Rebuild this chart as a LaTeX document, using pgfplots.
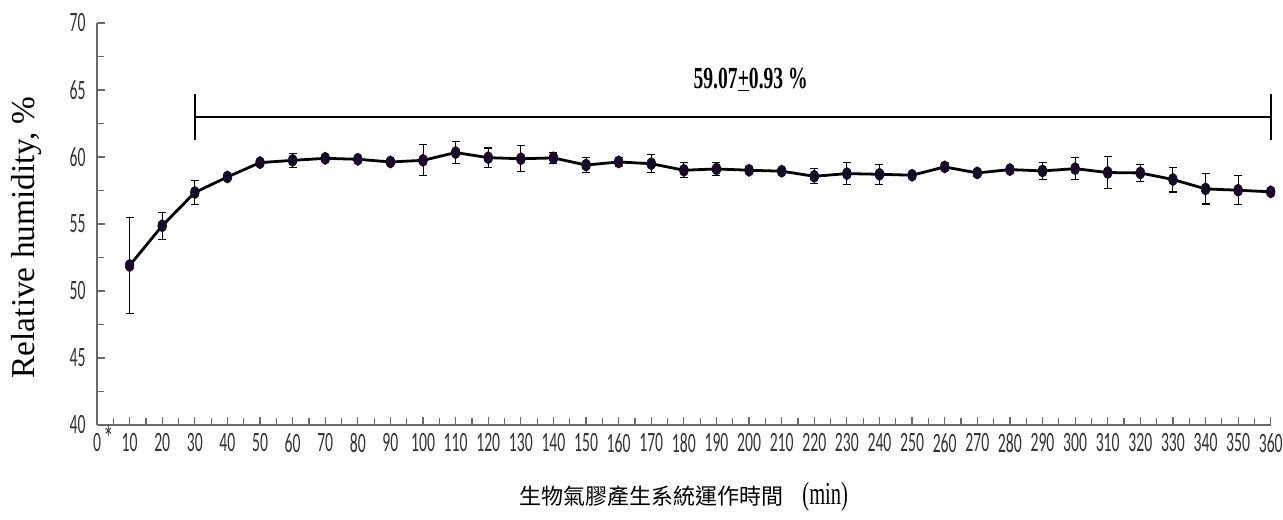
\documentclass[border=0pt]{standalone}
\usepackage{fontspec}
\setmainfont{Liberation Serif}
\newfontfamily\tickfont[FakeStretch=0.56]{Carlito}
\newfontfamily\cjk{Noto Sans CJK TC}
\newfontfamily\condserif[FakeStretch=0.64]{Liberation Serif}
\usepackage{pgfplots}
\usepackage{pgfplotstable}
\pgfplotsset{compat=1.18}
\definecolor{axgray}{RGB}{105,105,105}
\definecolor{txtgray}{RGB}{50,50,50}
\definecolor{mk}{RGB}{22,10,38}

\pgfplotstableread{
x y e
10 51.9 3.55
20 54.87 1.0
30 57.35 0.88
40 58.51 0.12
50 59.58 0.12
60 59.75 0.5
70 59.9 0.15
80 59.83 0.15
90 59.63 0.15
100 59.75 1.15
110 60.33 0.85
120 59.95 0.72
130 59.87 0.97
140 59.93 0.4
150 59.4 0.57
160 59.63 0.35
170 59.5 0.67
180 59.01 0.55
190 59.11 0.47
200 59.01 0.25
210 58.94 0.2
220 58.56 0.56
230 58.76 0.84
240 58.71 0.73
250 58.64 0.15
260 59.26 0.3
270 58.81 0.25
280 59.06 0.2
290 58.96 0.62
300 59.13 0.82
310 58.84 1.21
320 58.81 0.66
330 58.32 0.93
340 57.62 1.13
350 57.52 1.07
360 57.4 0.15
}\rhdata

\begin{document}
\begin{tikzpicture}
\path[use as bounding box] (0,0) rectangle (962.25pt,390pt);
\begin{axis}[
  at={(72.75pt,71.25pt)}, anchor=south west,
  scale only axis, width=880.3pt, height=301.5pt,
  xmin=0, xmax=360, ymin=40, ymax=70,
  axis lines=left,
  axis line style={axgray, line width=1.1pt, -},
  xtick={0,10,...,360},
  xticklabels={0\rlap{\smash{\hspace{2pt}\raisebox{0.05em}{\fontsize{26pt}{26pt}\selectfont *}}},10,20,30,40,50,60,70,80,90,100,110,120,130,140,150,160,170,180,190,200,210,220,230,240,250,260,270,280,290,300,310,320,330,340,350,360},
  minor x tick num=1,
  ytick={40,45,...,70},
  minor y tick num=1,
  tick align=inside,
  major tick length=6pt,
  minor tick length=5pt,
  tick style={axgray, line width=0.9pt},
  ticklabel style={font=\tickfont\fontsize{21pt}{22pt}\selectfont, text=txtgray},
  /pgf/number format/assume math mode=true,
  yticklabel style={xshift=-5pt},
  xticklabel style={yshift=-3pt},
  clip=false,
]
\addplot[black, line width=2.1pt, mark=*,
  mark options={xscale=0.7, fill=mk, draw=mk, line width=0.5pt},
  mark size=4.6pt,
  error bars/.cd, y dir=both, y explicit,
  error bar style={black, line width=0.8pt},
  error mark options={rotate=90, black, mark size=3pt, line width=0.8pt}]
  table[x=x, y=y, y error=e]{\rhdata};
\addplot[black, line width=1.8pt] coordinates {(30,63) (360,63)};
\addplot[black, line width=1.8pt] coordinates {(30,61.3) (30,64.7)};
\addplot[black, line width=1.8pt] coordinates {(360,61.3) (360,64.7)};
\node[font=\condserif\bfseries\fontsize{23pt}{23pt}\selectfont] at (axis cs:200.5,65.8) {59.07\underline{+}0.93 \%};
\end{axis}
\node[rotate=90, font=\fontsize{25pt}{25pt}\selectfont] at (20.25pt,212pt) {Relative humidity, \%};
\node at (512.9pt,17.25pt) {{\cjk\fontsize{16.5pt}{17pt}\selectfont 生物氣膠產生系統運作時間}\hspace{14pt}{\condserif\fontsize{24pt}{24pt}\selectfont (min)}};
\end{tikzpicture}
\end{document}
